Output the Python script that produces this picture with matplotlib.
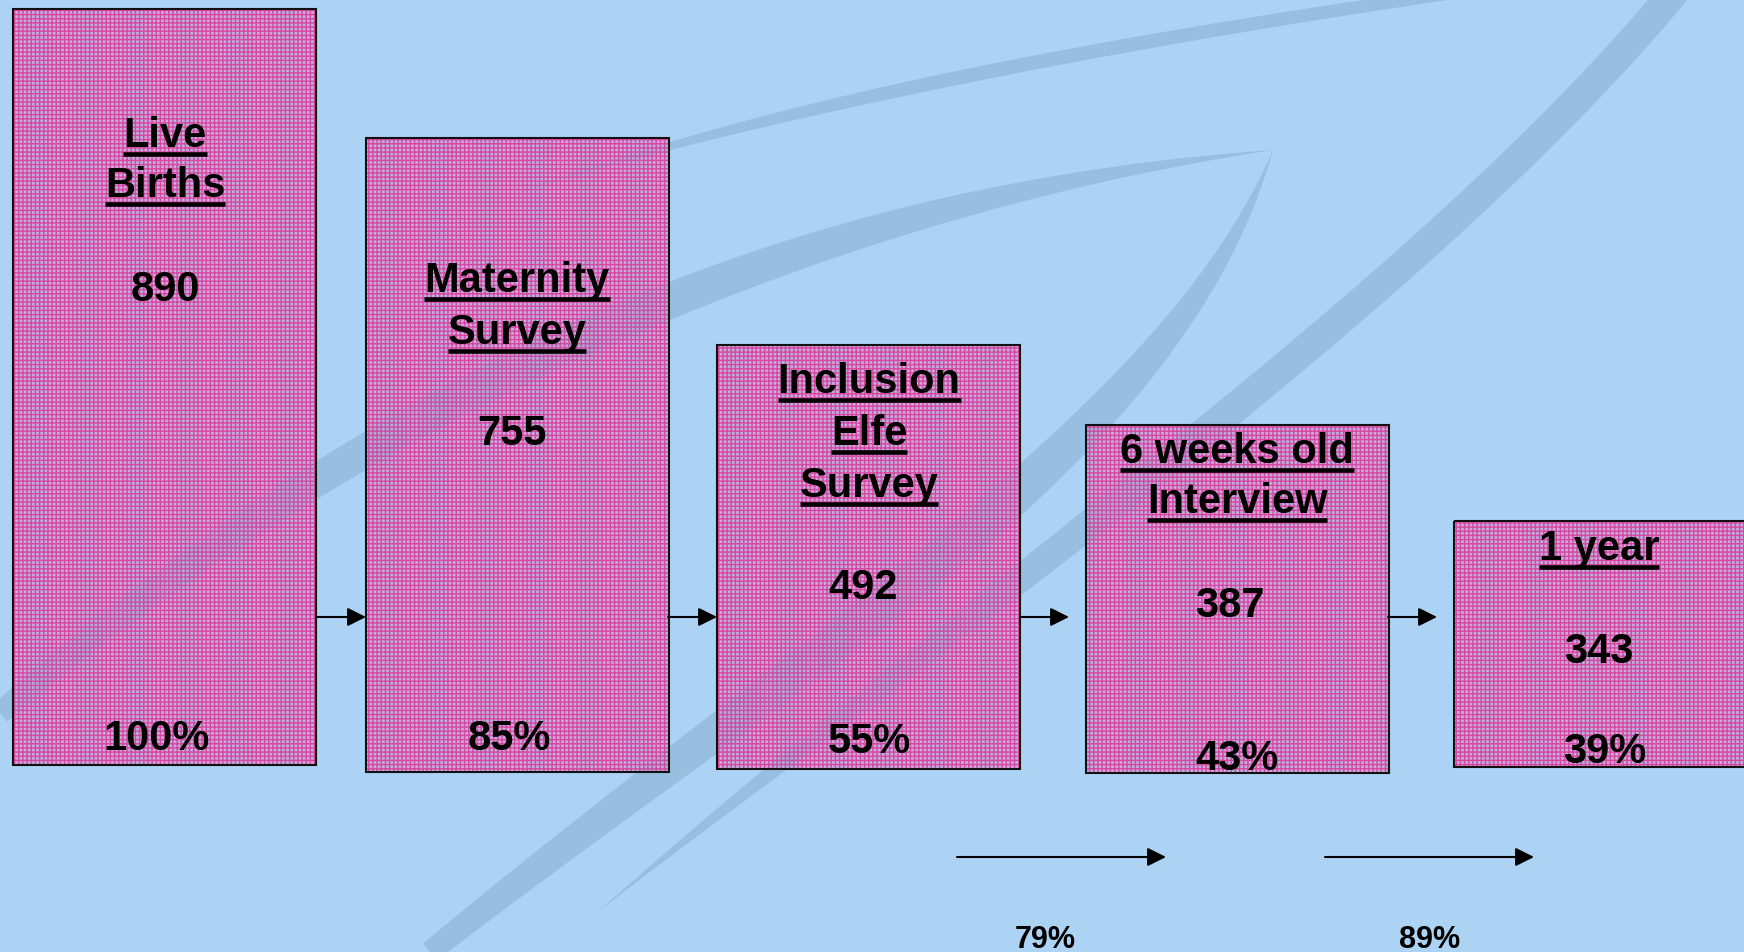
import matplotlib
matplotlib.use("Agg")
import numpy as np
import matplotlib.pyplot as plt
from matplotlib.patches import Polygon
from math import comb

plt.rcParams["font.family"] = ["Liberation Sans", "DejaVu Sans"]
plt.rcParams["hatch.linewidth"] = 1.0

# --- data -------------------------------------------------------------
stages = ["Live\nBirths", "Maternity\nSurvey", "Inclusion\nElfe\nSurvey",
          "6 weeks old\nInterview", "1 year"]
counts = [890, 755, 492, 387, 343]
pct_of_births = ["100%", "85%", "55%", "43%", "39%"]
step_rates = ["79%", "89%"]

# --- layout (pixel coordinates, y downwards) ----------------------------
W, H = 1744, 952
BG = "#acd3f3"
SWOOSH = "#9fc6e6"
BOX_FACE = "#c0aee0"
BOX_HATCH = "#d9469e"
FS = 30

box_left = [13, 366, 717, 1086, 1454]
box_top = [9, 138, 345, 425, 521]
box_bottom = [765, 772, 769, 773, 767]
box_width = 303

title_x = [165, 517, 869, 1237, 1599]
title_base = [147, 292, 393, 463, 560]
title_step = [50, 52, 52, 50, 52]
count_x = [165, 512, 863, 1230, 1599]
count_base = [301, 445, 599, 617, 663]
pct_x = [157, 509, 869, 1237, 1605]
pct_base = [750, 750, 753, 770, 763]

row_arrows = [(316, 366), (668, 717), (1020, 1069), (1388, 1437)]
row_arrow_y = 617
low_arrows = [(957, 1166), (1325, 1534)]
low_arrow_y = 857
rate_x = [1045, 1430]
rate_base = 948


def bezier(points, n=200):
    pts = np.asarray(points, dtype=float)
    t = np.linspace(0, 1, n)[:, None]
    k = len(pts) - 1
    out = np.zeros((n, 2))
    for i, p in enumerate(pts):
        out += comb(k, i) * (1 - t) ** (k - i) * t ** i * p
    return out


def band(points, w_start, w_mid, w_end):
    c = bezier(points)
    d = np.gradient(c, axis=0)
    nrm = np.stack([-d[:, 1], d[:, 0]], axis=1)
    nrm /= np.linalg.norm(nrm, axis=1, keepdims=True)
    t = np.linspace(0, 1, len(c))
    w = np.where(t < 0.5, w_start + (w_mid - w_start) * np.sin(np.pi * t),
                 w_end + (w_mid - w_end) * np.sin(np.pi * t))
    left = c + nrm * (w / 2)[:, None]
    right = c - nrm * (w / 2)[:, None]
    return np.vstack([left, right[::-1]])


swooshes = [
    band([(0, 713), (564, 229), (1273, 150)], 22, 36, 0),
    band([(1273, 150), (1170, 440), (820, 640), (430, 952)], 0, 40, 22),
    band([(512, 195), (900, 60), (1700, -40)], 0, 14, 10),
    band([(1700, -40), (1450, 280), (950, 620), (600, 910)], 30, 30, 0),
]

fig = plt.figure(figsize=(W / 100, H / 100), dpi=100)
fig.patch.set_facecolor(BG)
ax = fig.add_axes([0, 0, 1, 1])
ax.set_xlim(0, W)
ax.set_ylim(H, 0)
ax.axis("off")

for poly in swooshes:
    ax.add_patch(Polygon(poly, closed=True, facecolor=SWOOSH, edgecolor="none", zorder=0))

heights = [b - t for t, b in zip(box_top, box_bottom)]
ax.bar(box_left, heights, width=box_width, bottom=box_top, align="edge",
       color=BOX_FACE, edgecolor=BOX_HATCH, hatch="++++", linewidth=0, zorder=1)
# swoosh shows faintly through the boxes
for poly in swooshes:
    ax.add_patch(Polygon(poly, closed=True, facecolor="#6a8cba", alpha=0.12,
                         edgecolor="none", zorder=2))
ax.bar(box_left, heights, width=box_width, bottom=box_top, align="edge",
       color="none", edgecolor="#111111", linewidth=1.5, zorder=3)

renderer = fig.canvas.get_renderer()
text_kw = dict(fontsize=FS, fontweight="bold", ha="center", va="baseline", zorder=5)


def underlined(x, y, s):
    t = ax.text(x, y, s, **text_kw)
    bb = t.get_window_extent(renderer)
    ax.plot([x - bb.width / 2, x + bb.width / 2], [y + 7, y + 7], color="black",
            lw=3.3, solid_capstyle="butt", zorder=5)


for i, stage in enumerate(stages):
    for j, line in enumerate(stage.split("\n")):
        underlined(title_x[i], title_base[i] + j * title_step[i], line)
    ax.text(count_x[i], count_base[i], str(counts[i]), **text_kw)
    ax.text(pct_x[i], pct_base[i], pct_of_births[i], **text_kw)

arrow_kw = dict(arrowstyle="-|>", color="black", lw=1.5, mutation_scale=28,
                shrinkA=0, shrinkB=0)
for x0, x1 in row_arrows:
    ax.annotate("", xy=(x1, row_arrow_y), xytext=(x0, row_arrow_y),
                arrowprops=arrow_kw, zorder=4)
for x0, x1 in low_arrows:
    ax.annotate("", xy=(x1, low_arrow_y), xytext=(x0, low_arrow_y),
                arrowprops=arrow_kw, zorder=4)

for x, s in zip(rate_x, step_rates):
    ax.text(x, rate_base, s, fontsize=22, fontweight="bold", ha="center",
            va="baseline", zorder=5)

fig.savefig("out.png", dpi=100, facecolor=BG)
